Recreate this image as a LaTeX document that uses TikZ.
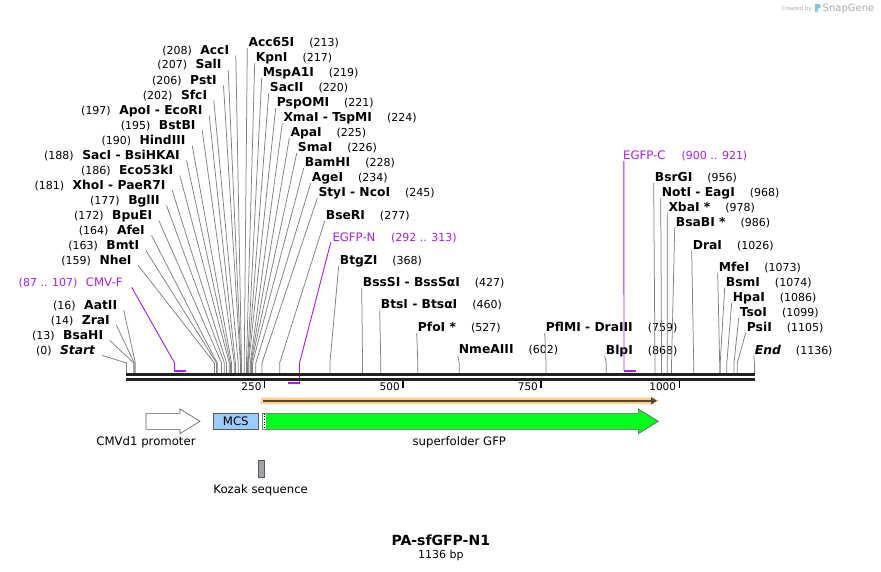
\documentclass[tikz,border=0pt]{standalone}
\usepackage{fontspec}
\setmainfont{DejaVu Sans}
\usetikzlibrary{arrows.meta,calc,positioning}

\definecolor{primerpurple}{RGB}{160,32,240}
\definecolor{cutgray}{RGB}{128,128,128}
\definecolor{mapblack}{RGB}{34,34,34}
\definecolor{mcsblue}{RGB}{153,204,255}
\definecolor{gfpgreen}{RGB}{0,255,28}
\definecolor{orfband}{RGB}{255,208,140}
\definecolor{orfline}{RGB}{90,70,50}
\definecolor{kozakgray}{RGB}{160,163,170}
\definecolor{featoutline}{RGB}{90,90,90}
\definecolor{markgray}{RGB}{170,172,176}
\definecolor{logoblue}{RGB}{140,195,235}

\newcommand{\enz}[1]{{\fontsize{12.3}{14}\selectfont\bfseries #1}}
\newcommand{\sitepos}[1]{{\fontsize{11}{13}\selectfont(#1)}}
\newcommand{\featname}[1]{{\fontsize{11.7}{14}\selectfont #1}}

\begin{document}
\begin{tikzpicture}[
  x=1pt, y=-1pt,
  >=Stealth,
  lefttag/.style={anchor=base east, inner sep=0pt},
  righttag/.style={anchor=base west, inner sep=0pt},
  cutline/.style={draw=cutgray, line width=0.75pt},
  primer/.style={draw=primerpurple, line width=0.9pt},
  primerbar/.style={draw=primerpurple, line width=2pt},
  dnaline/.style={draw=mapblack, line width=2.7pt},
  scaletick/.style={draw=black, line width=1.4pt},
  feature/.style={draw=featoutline, line width=0.6pt},
  featlabel/.style={font=\fontsize{11.7}{14}\selectfont, inner sep=0pt}
]

\useasboundingbox (0,0) rectangle (881,571);

% --- parameters ---
\def\xo{126.5}    % x of bp 0
\def\bpx{0.5528}  % pt per bp
\def\ytop{363}    % where the cut lines turn vertical

% --- enzymes labelled on the left (name/bp/text end/y) ---
\foreach \nm/\bp/\xe/\ye [count=\k] in {
  AccI/208/229.3/50, SalI/207/221.7/64.5, PstI/206/217/80,
  SfcI/202/207.3/95, ApoI - EcoRI/197/202.7/110, BstBI/195/195.7/125,
  HindIII/190/185.7/140, SacI - BsiHKAI/188/180/155, Eco53kI/186/173.3/170,
  XhoI - PaeR7I/181/165.7/185, BglII/177/160/200, BpuEI/172/152.3/215,
  AfeI/164/145/230, BmtI/163/139.3/245, NheI/159/131.7/260,
  AatII/16/117.3/305, ZraI/14/110/320, BsaHI/13/103.3/335,
  \textit{Start}/0/95.7/350}
{
  \node[lefttag] (L\k) at (\xe,{\ye+4.4}) {\sitepos{\bp}\hspace{8.5pt}\enz{\nm}};
  \coordinate (Ls\k) at ({\xo+\bp*\bpx},\ytop);
  \draw[cutline] ($(L\k.base east)+(6.5,1)$) -- (Ls\k) -- ++(0,10.5);
}

% --- enzymes labelled on the right (name/bp/text start/y) ---
\foreach \nm/\bp/\xs/\ye [count=\k] in {
  Acc65I/213/248.3/42.3, KpnI/217/255.7/57.3, MspA1I/219/262.7/72.3,
  SacII/220/269.7/87.3, PspOMI/221/276.7/102.3, XmaI - TspMI/224/283.3/117.3,
  ApaI/225/290.3/132.3, SmaI/226/297.7/147.3, BamHI/228/304.7/162.3,
  AgeI/234/311.7/177.3, StyI - NcoI/245/318.3/192.3, BseRI/277/325.7/215,
  BtgZI/368/339.7/260, BssSI - BssSαI/427/362.7/281.7,
  BtsI - BtsαI/460/380.7/304.5, PfoI */527/417.7/326.7,
  NmeAIII/602/458.7/349.5, PflMI - DraIII/759/545.7/326.7,
  BlpI/868/605.7/350, BsrGI/956/654.7/176.7, NotI - EagI/968/661.7/192.3,
  XbaI */978/668.3/206.7, BsaBI */986/675.7/221.7, DraI/1026/692.7/245,
  MfeI/1073/718.7/266.7, BsmI/1074/725.7/281.7, HpaI/1086/732.7/296.7,
  TsoI/1099/739.7/312, PsiI/1105/746.7/327, \textit{End}/1136/754.7/350}
{
  \node[righttag] (R\k) at (\xs,{\ye+4.4}) {\enz{\nm}\hspace{15pt}\sitepos{\bp}};
  \coordinate (Rs\k) at ({\xo+\bp*\bpx},\ytop);
  \draw[cutline] ($(R\k.base west)+(-1,1.5)$) -- (Rs\k) -- ++(0,10.5);
}

% --- primers ---
\node[lefttag, text=primerpurple] (cmvf) at (122.7,286.1)
  {\sitepos{87 .. 107}\hspace{8.5pt}\featname{CMV-F}};
\coordinate (cmvfs) at ({\xo+87*\bpx},\ytop);
\draw[primer] ($(cmvf.base east)+(9,1.2)$) -- (cmvfs) -- ++(0,8) coordinate (cmvfb);
\draw[primerbar] ($(cmvfb)+(-0.45,0)$) -- ({\xo+107*\bpx},371);

\node[righttag, text=primerpurple] (egfpn) at (332.3,241.1)
  {\featname{EGFP-N}\hspace{15.6pt}\sitepos{292 .. 313}};
\coordinate (egfpns) at ({\xo+313*\bpx},\ytop);
\draw[primer] ($(egfpn.base west)+(-1.5,1.2)$) -- (egfpns) -- ++(0,20.3) coordinate (egfpnb);
\draw[primerbar] ($(egfpnb)+(0.45,0)$) -- ({\xo+292*\bpx},383.3);

\node[righttag, text=primerpurple] (egfpc) at (623,159.4)
  {\featname{EGFP-C}\hspace{16pt}\sitepos{900 .. 921}};
\coordinate (egfpcs) at ({\xo+900*\bpx},\ytop);
\draw[primer] ($(egfpc.base west)+(0.8,1.5)$) -- (egfpcs) -- ++(0,7.5) coordinate (egfpcb);
\draw[primerbar] ($(egfpcb)+(-0.45,0)$) -- ({\xo+921*\bpx},370.5);

% --- sequence line and scale ---
\coordinate (seqstart) at (126,374.7);
\coordinate (seqend) at (755,374.7);
\draw[dnaline] (seqstart) -- (seqend);
\draw[dnaline] ($(seqstart)+(0,4.7)$) -- ($(seqend)+(0,4.7)$);

\foreach \t in {250,500,750,1000} {
  \coordinate (tick\t) at ({\xo+\t*\bpx},380.7);
  \draw[scaletick] (tick\t) -- ++(0,7);
  \node[anchor=base east, inner sep=0pt, font=\fontsize{10.5}{12}\selectfont]
    (scale\t) at ($(tick\t)+(-3,10)$) {\t};
}

% --- ORF above the features ---
\fill[orfband] (261,397.6) -- (653,397.6) -- (659,400.8) -- (653,404) -- (261,404) -- cycle;
\draw[orfline, line width=1.4pt, -{Triangle[length=6pt,width=7pt]}] (263,400.8) -- (657,400.8);

% --- features ---
\draw[feature, fill=white] (146,413.3) -- (180,413.3) -- (180,409) -- (200,421.3)
  -- (180,433.6) -- (180,429.3) -- (146,429.3) -- cycle;
\node[featlabel] (cmvlbl) at (146,442.5) {CMVd1 promoter};

\node[feature, fill=mcsblue, minimum width=45pt, minimum height=16pt, featlabel] (mcs)
  at (235.8,421.3) {MCS};

\draw[feature, fill=gfpgreen] (262.3,413.3) -- (638.3,413.3) -- (638.3,409) -- (658.3,421.3)
  -- (638.3,433.6) -- (638.3,429.3) -- (262.3,429.3) -- cycle;
\fill[white] (262.6,413.6) rectangle (266.3,429);
\draw[black, dotted, line width=0.6pt] (264.2,413.8) -- (264.2,428.8);
\node[featlabel] (gfplbl) at (459.3,442.5) {superfolder GFP};

\node[feature, fill=kozakgray, minimum width=6pt, minimum height=16.5pt, inner sep=0pt]
  (kozak) at (261.5,469) {};
\node[featlabel] (kozaklbl) at (260.7,490) {Kozak sequence};

% --- title ---
\node[anchor=base, inner sep=0pt, font=\fontsize{14}{16}\selectfont\bfseries] (title)
  at (440.8,545) {PA-sfGFP-N1};
\node[anchor=base, inner sep=0pt, font=\fontsize{11}{13}\selectfont] (bplen)
  at (440.8,558.5) {1136 bp};

% --- watermark ---
\node[anchor=base east, inner sep=0pt, text=markgray, font=\fontsize{5.5}{6}\selectfont]
  (madeby) at (812,10) {Created by};
\fill[logoblue] (815,4) -- (819,4) .. controls (821.5,4) and (821.5,8.5) .. (818,8.5)
  -- (817.5,12) -- (815,12) -- cycle;
\node[anchor=base west, inner sep=0pt, text=markgray, font=\fontsize{10}{12}\selectfont]
  (snapgene) at (822.5,11.2) {SnapGene};

\end{tikzpicture}
\end{document}
